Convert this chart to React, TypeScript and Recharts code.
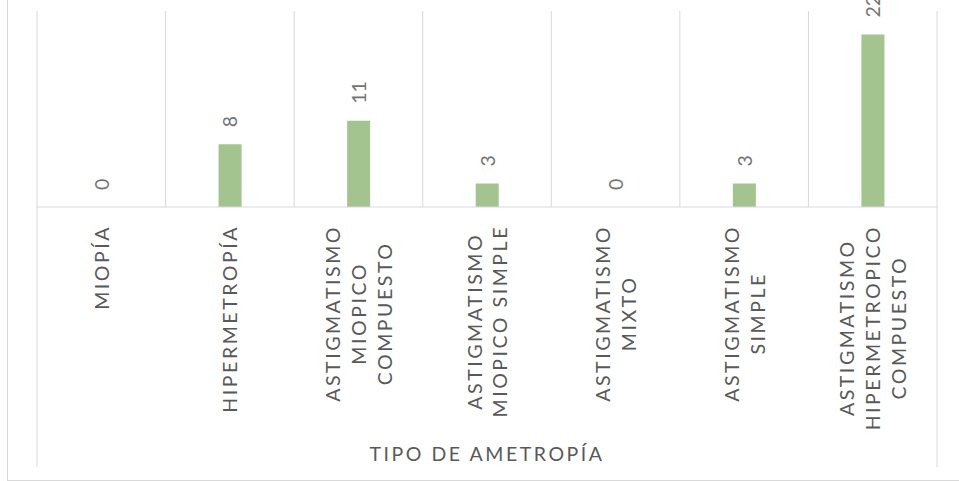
import React from "react";
import { ComposedChart, Bar, Line, XAxis, YAxis, CartesianGrid } from "recharts";

const categories = [
  "MIOPÍA",
  "HIPERMETROPÍA",
  "ASTIGMATISMO\nMIOPICO\nCOMPUESTO",
  "ASTIGMATISMO\nMIOPICO SIMPLE",
  "ASTIGMATISMO\nMIXTO",
  "ASTIGMATISMO\nSIMPLE",
  "ASTIGMATISMO\nHIPERMETROPICO\nCOMPUESTO",
];
const values = [0, 8, 11, 3, 0, 3, 22];
const axisTitle = "TIPO DE AMETROPÍA";
const yDomain = [0, 25];

const data = categories.map((name, i) => ({ name, value: values[i] }));

const FONT = "Lato, 'Open Sans', sans-serif";
const FS = 19.5;
const LS = 2.55;
const GRID = "#d9d9d9";

let canvasCtx: CanvasRenderingContext2D | null = null;
function measure(text: string): number {
  if (!canvasCtx) {
    const c = document.createElement("canvas");
    canvasCtx = c.getContext("2d");
  }
  const ctx: any = canvasCtx;
  if (!ctx) return text.length * 14;
  ctx.font = `${FS}px Lato`;
  try {
    ctx.letterSpacing = `${LS}px`;
  } catch (e) {}
  return ctx.measureText(text).width;
}

function CategoryTick(props: any) {
  const { x, y, payload } = props;
  const lines: string[] = String(payload.value).split("\n");
  const maxW = Math.max(...lines.map(measure));
  const cy = y + 18 + maxW / 2;
  const gap = 25.8;
  const n = lines.length;
  return (
    <g>
      {lines.map((l, i) => (
        <text
          key={i}
          x={0}
          y={0}
          transform={`translate(${x + (i - (n - 1) / 2) * gap}, ${cy}) rotate(-90)`}
          textAnchor="middle"
          dominantBaseline="central"
          fontFamily={FONT}
          fontSize={FS}
          letterSpacing={LS}
          fill="#595959"
        >
          {l}
        </text>
      ))}
    </g>
  );
}

function AxisBox(props: any) {
  const vb = props.viewBox;
  if (!vb) return null;
  const { x, y, width } = vb;
  return (
    <g>
      <line x1={x} x2={x} y1={y} y2={y + 260} stroke={GRID} strokeWidth={1} />
      <line x1={x + width} x2={x + width} y1={y} y2={y + 260} stroke={GRID} strokeWidth={1} />
      <text
        x={x + width / 2}
        y={y + 246}
        textAnchor="middle"
        dominantBaseline="central"
        fontFamily={FONT}
        fontSize={FS}
        letterSpacing={LS}
        fill="#595959"
      >
        {axisTitle}
      </text>
    </g>
  );
}

function ValueDot(props: any) {
  const { cx, cy, payload } = props;
  if (cx == null || cy == null) return null;
  return (
    <text
      x={0}
      y={0}
      transform={`translate(${cx}, ${cy - 17}) rotate(-90)`}
      textAnchor="start"
      dominantBaseline="central"
      fontFamily={FONT}
      fontSize={FS}
      fill="#737373"
    >
      {payload.value}
    </text>
  );
}

export default function App() {
  return (
    <div style={{ position: "relative", width: 959, height: 481, overflow: "hidden", background: "#fff" }}>
      <style>{`body{margin:0}`}</style>
      <div
        style={{
          position: "absolute",
          left: 7,
          top: -10,
          right: -10,
          bottom: 0,
          border: `1px solid ${GRID}`,
        }}
      />
      <div style={{ position: "absolute", left: 0, top: 0 }}>
        <ComposedChart
          width={959}
          height={481}
          data={data}
          margin={{ top: 11, left: 37, right: 22, bottom: 0 }}
          barCategoryGap={0}
        >
          <CartesianGrid
            horizontal={false}
            vertical={true}
            stroke={GRID}
            strokeWidth={1}
            verticalCoordinatesGenerator={(p: any) => {
              const off = p.offset;
              const n = data.length;
              const out: number[] = [];
              for (let i = 0; i <= n; i++) out.push(off.left + (i * off.width) / n);
              return out;
            }}
          />
          <XAxis
            dataKey="name"
            interval={0}
            height={274}
            tickLine={false}
            tickSize={0}
            tickMargin={0}
            axisLine={{ stroke: GRID, strokeWidth: 1 }}
            tick={<CategoryTick />}
            label={(p: any) => <AxisBox {...p} />}
          />
          <YAxis hide width={0} domain={yDomain} />
          <Bar dataKey="value" fill="#A3C48F" barSize={23} isAnimationActive={false} />
          <Line
            dataKey="value"
            stroke="none"
            dot={<ValueDot />}
            activeDot={false}
            isAnimationActive={false}
            legendType="none"
          />
        </ComposedChart>
      </div>
    </div>
  );
}
